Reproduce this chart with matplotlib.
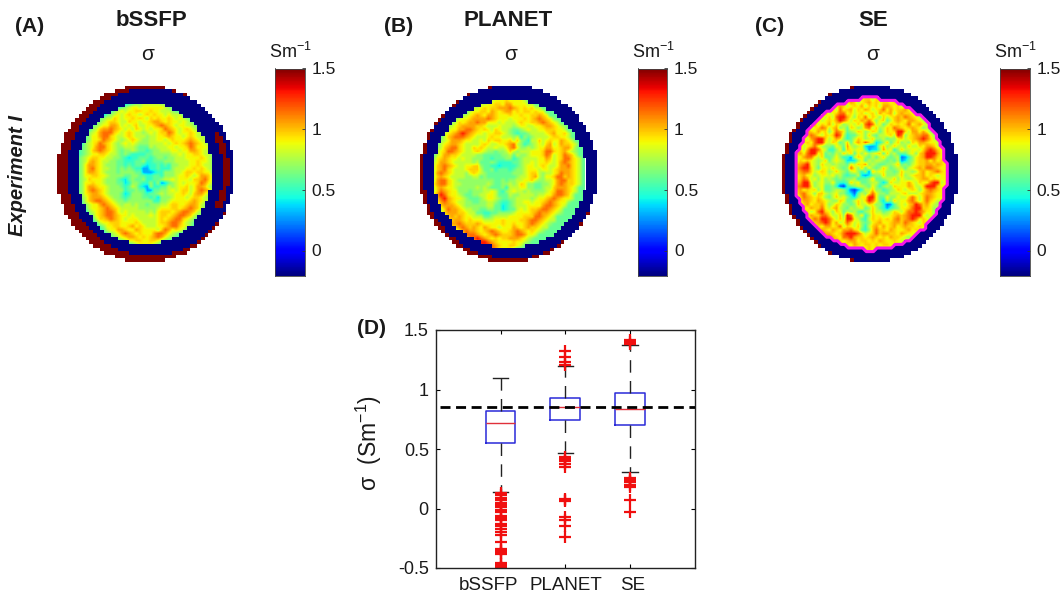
import numpy as np
import matplotlib
matplotlib.use("Agg")
import matplotlib.pyplot as plt
from matplotlib.colors import Normalize

plt.rcParams['font.family'] = ['Liberation Sans', 'DejaVu Sans']
plt.rcParams['mathtext.default'] = 'regular'

# Conductivity maps: one character per cell, read through CODE_VALUES (S/m)
CODE_VALUES = {'1': .1, '2': .2, '3': .3, '4': .4, '5': .5, '6': .6, '7': .7, '8': .8,
               '9': .9, 'A': .97, 'B': 1.05, 'C': 1.15, 'D': 1.3}
map_a = [
 "4444444444 4444456778 8888777544 4444444444",
 "4444444444 4456789989 9999987654 4444444444",
 "4444444444 5789899AA9 9A99888765 4444444444",
 "4444444446 78989A9989 A9A9989888 6444444444",
 "4444444678 8A9899A9A9 8A9A99A989 8764444444",
 "4444446789 AA988A9989 9ABBA9A998 9876444444",
 "4444467899 BBA8989A88 99ABCBA989 9887644444",
 "4444578ABB CBA9898A98 9899ACBA98 9A98764444",
 "4445789BCC CA989A9887 8989AACB98 99A9875444",
 "4446799BCC A9889A9888 78899ABA99 89A9887644",
 "4456799ACB A98789A987 7889989A99 9ABA988654",
 "445789ACBA 9878989877 78888989A9 ABCBA98754",
 "456789BCCA 9877888766 6878889989 9ACB999865",
 "45678ABCBA 9876778766 5677888998 99BBA98865",
 "4567899AA9 8876765555 6677777889 899AA98866",
 "46789AA998 8776545566 6567767788 89999A9876",
 "4678ABA988 7766555667 5566677788 8899A99876",
 "5679BBA987 7766565665 4556565778 8899A98876",
 "5679BCA988 7767676553 3556555788 899A9A9876",
 "5679BBA987 7767777663 3345577788 9AA9AA9976",
 "56799AA998 7777667766 5566577789 9A989BBA86",
 "5678A99987 7765467667 5566788989 998AABCA86",
 "56799A9987 7766457765 5757346789 8999ACB986",
 "5679BBA998 7776568754 3755668789 9A89BBA876",
 "5679BCBA98 7777566766 3366778989 AA89BCBA76",
 "4679ABBA98 7776457776 5667878899 A98ABB9876",
 "4678ABBBA9 8776567776 6564777899 989AA98765",
 "4568ABCCBA 9877677777 7755778999 99ABA98854",
 "4467899BCB A987887877 6777889AA9 9ABBA87654",
 "4456899ABC BA98888877 7778999AA9 ABCBA87544",
 "4445789ABC CB98988888 7879AAA9AB CCBA876444",
 "4444679ABC CBA9989888 8989AA9ABC CBA8764444",
 "4444568AAB CBA9899988 8889A9ABCC A987544444",
 "4444456899 AAA9999A98 8889AABCCB 9876544444",
 "4444445679 9AA99AB9A9 88899ABCCA 9875444444",
 "4444444568 99BBA99BA9 9998ACB9A9 8654444444",
 "4444444456 789BCBA9A9 99BCCB9876 5444444444",
 "4444444445 6789ABBA9A 9ABCB98765 4444444444",
 "4444444444 4567899AA9 9AA9876544 4444444444",
 "4444444444 4445567899 9987554444 4444444444",
]
map_b = [
 "6666666666 6666688999 A999986666 6666666666 66",
 "6666666666 6668899AA9 BB99998866 6666666666 66",
 "6666666666 6889A9AABB BCBA9A9A88 6666666666 66",
 "6666666666 899AA9BA9A BB9A9AA9A9 9666666666 66",
 "6666666678 9ABA9BBA99 9A99A99AAB A966666666 66",
 "6666667899 ABBBBCBA99 98999A9ABC BA97666666 66",
 "6666678A9A BBCBB99989 8889A99AAB CBA9866666 66",
 "6666789ABB BBAA988898 8878998899 ABBA987666 66",
 "6667899BBC CBA9A98A98 8766789889 9AAA998666 66",
 "66689ABCDC BA99899AA9 8765667888 89AB99A866 66",
 "6668ABCCCB A98889A998 8878576788 889AA99866 66",
 "66789BBBA9 98898A9AA9 9A8A76588A 89A99BA986 66",
 "6689ABBA98 8889A98899 ABC8756789 8AB89BAA98 66",
 "678ABCCA98 8A9A988988 9BC9778789 9BB99ABB97 66",
 "689ACCBA98 89A9877677 8A87888999 ACCA9AB987 66",
 "689BBAA988 8877666667 7868778999 ACB89ACBA8 66",
 "79ABA99898 8777665666 7756788889 9BA89ACCA9 86",
 "89BBA98888 8786667655 5566788989 9A989BCBA9 86",
 "8ABCBA9889 9AA7665545 5556789989 A9889BBCA9 86",
 "8ABCA98889 AAA8667566 6567789998 9989ABBBA9 86",
 "8BCBA98887 9A98766666 6677789AA8 7889ACBBA9 86",
 "8ABA988887 7886766666 6667889AB8 799ACCABA9 86",
 "8BCCA98777 7777777667 6778899A87 7889BCCAA9 86",
 "9BCCA98877 7777787667 7878A97766 7789BCBAA9 86",
 "8ABA998777 7787876667 5888997766 788ABBBA98 66",
 "8ACBA99777 6777889865 7898878777 789ACCBA98 66",
 "9BDCA99876 6778899866 6877888878 899BCCBA86 66",
 "8ACDBA9987 6667899876 6778888789 9ABCBA9986 66",
 "69BCBA9887 7667788765 5678899899 ABCBA99766 66",
 "68ABBBA987 7777788664 5678889999 BCCBA98666 66",
 "668ACBBA98 8776677664 5668989AAB CCBA986666 66",
 "668ABBBAA9 8866556677 7789999ABC BBA9876666 66",
 "6678ABABA9 9888667888 89999AAACC BA98666666 66",
 "6668AABBA9 A99988899A 9999AABCCB A988666666 66",
 "66679BBCBA AABA99999A 99A99ABCBA 9876666666 66",
 "666689ABCB ABA9BA9989 99BA9ABAA9 8866666666 66",
 "66666789BC BBA9ABCBA9 9ABCBA9A98 7666666666 66",
 "666666789C CCBA9ABCBA AABCCB9986 6666666666 66",
 "6666666789 CCDCBA9A9A ABBBA98766 6666666666 66",
 "6666666668 9BCDDCBA99 99A9987666 6666666666 66",
 "6666666666 89BDDDCBA9 9AA9866666 6666666666 66",
 "6666666666 6689BCCB99 9986666666 6666666666 66",
]
map_c = [
 "9999999999 9999999A9A A8A99A9999 9999999999 99",
 "9999999999 99AA9BA89A B9A9AA9A99 9999999999 99",
 "9999999999 A9BA89A9B8 A9A8BBA9A8 9999999999 99",
 "9999999AB9 A8C9AB8A9B A89AC9B9AA B987999999 99",
 "99999AA9B8 9ACC9A89A8 9A8B9AB8AB AA98999999 99",
 "9999A9BA8A 8CDDB97A9C 8A97A89ABA CBA9879999 99",
 "999A9BA89A 9BDCA8A9BA C979A68ABA 9BBA987999 99",
 "99A9AB8A9B 8A97898A8C DC8968A9A9 AC9AB98999 99",
 "99AB89ACB8 AB786A978B C8A78A9CBA 9ABA978899 99",
 "9A9BA9B9A7 9CB9678A97 8A968A9ADD A8BB9B9789 99",
 "99AACB98A9 ADC8566897 A76889A8DC 79ABBCC979 99",
 "9AA8BCDDA8 9BA7568A97 8A7786779A 89ABCDCA88 99",
 "9A9A9CDD98 A967A69B9C A8457A68A7 87A9BBA998 89",
 "AB89AC9877 6986B87894 3348A78A88 7A88A9BBA8 99",
 "9A8BDDC985 5795A98996 3447B8957A 88998ACDCA 99",
 "AB9CDD9A67 687A8A6979 789A6A7866 6897ABDDDB 99",
 "99BCC98A66 7975538A97 6868A76782 3579ABDDCA 99",
 "8A9A9878A6 8987444796 8788767683 4679AAB9B9 A9",
 "ABCD987A88 7877698A9B 78766778A6 7689AABBAB A9",
 "ACDDA86998 A8767C97A6 9767A86788 689ABACCBA 99",
 "ABCCA89A97 8A87689757 3A8997767A 8878AB9ABC A9",
 "9AB9978998 9786566843 4677A7778A 789AAB9A98 99",
 "9ACB897978 7676778566 7A66788A79 8789ABB9A9 99",
 "ABDD978977 96556A8966 788646A889 9B98A99CDD 89",
 "BCDDA78966 7521567887 6975787A99 9BA88ADDDA 99",
 "AB9A9A7966 7887521358 8A775678A9 89A979BCBA 99",
 "9BCA97AA87 8977542687 9C97768889 A8889ABBA9 99",
 "8ACBA9A976 8A89754799 DD96697798 8ACA8ACBA9 99",
 "79BBA9BA98 77A9668A8A DC96486A89 9BCA8ACA98 89",
 "78AB9AAB97 8A97767A88 A977523689 8ABDCAB987 99",
 "97A9BAAC98 AB87687896 7A86535679 9ACDDAA978 99",
 "999A89CDA9 7A96878657 8A88678A98 ACCDCB9978 99",
 "9999BAACCA 88A7DC8795 7A99889ABA BCDDD98979 99",
 "9999ACBDDC A8A8DD9865 8A9A9A9BCA BCDC9A9799 99",
 "99999ABCDC 9B89CA8976 79AB99ABBA CBA98A9799 99",
 "99999AA9BB 9AC8A98A75 8AB9B9AB9A BAA9A97999 99",
 "999999ABA9 BA9BBCA965 7ACAA9BA99 AB9A988999 99",
 "9999999CBB A9ACDDDCA8 9ACABBAA9B A998999999 99",
 "99999999BC BA9CCDBAA9 ABA9A9BAA9 8799999999 99",
 "9999999999 9BA9ABB9AA 9A9BA99A98 9999999999 99",
 "9999999999 99A9A9BA9A A9A9AA9999 9999999999 99",
 "9999999999 9999A9A999 A9A9999999 9999999999 99",
]

panel_letters = ['(A)', '(B)', '(C)']
panel_titles = ['bSSFP', 'PLANET', 'SE']
cbar_ticks = [0, 0.5, 1, 1.5]
cbar_labels = ['0', '0.5', '1', '1.5']
vmin, vmax = -0.2, 1.5
ring_low, ring_high = -0.2, 1.5

# Box plot summaries
box_names = ['bSSFP', 'PLANET', 'SE']
box_q1 = [0.55, 0.745, 0.70]
box_med = [0.72, 0.85, 0.84]
box_q3 = [0.82, 0.93, 0.97]
box_lo = [0.14, 0.47, 0.31]
box_hi = [1.10, 1.20, 1.37]
fliers_bssfp = [.13, .11, .09, .07, .05, .03, .01, -.01, -.03, -.06, -.08, -.10, -.13,
                -.15, -.17, -.20, -.22, -.28, -.34, -.35, -.36, -.37, -.38, -.46, -.47,
                -.48, -.49, -.50]
fliers_planet = [1.32, 1.27, 1.23, 1.21, .43, .42, .40, .37, .35, .08, .07, .06, -.07,
                 -.10, -.15, -.24]
fliers_se = [1.42, 1.40, 1.38, .26, .24, .23, .22, .20, .18, .07, -.03]
reference_sigma = 0.85

W, H = 1064, 596
fig = plt.figure(figsize=(W / 100, H / 100), dpi=100)
TXT = '#1a1a1a'


def axpx(x0, y0, x1, y1):
    return fig.add_axes([x0 / W, 1 - y1 / H, (x1 - x0) / W, (y1 - y0) / H])


def tpx(x, y, s, **kw):
    kw.setdefault('color', TXT)
    return fig.text(x / W, 1 - y / H, s, **kw)


def decode(rows):
    rows = [r.replace(' ', '') for r in rows]
    n = len(rows)
    return np.array([[CODE_VALUES[c] for c in r.ljust(n, r[0])[:n]] for r in rows])


cmap = plt.get_cmap('jet', 256)
norm = Normalize(vmin, vmax)
N, BOX = 50, 180.0
GY = 82.4
geom = [
    dict(gx=57.3, map=map_a, mapbox=(73.3, 217.3, 245.7, 101.7),
         red=(145.5, 174.2, 88.6, 88.6), navy=(150.9, 172.4, 83.4, 83.4), inner=(145, 174, 67.5, 71)),
    dict(gx=415.7, map=map_b, mapbox=(432.2, 584.7, 251.2, 100),
         red=(507.5, 174.2, 88.6, 88.6), navy=(509.5, 172.4, 86.9, 86.9), inner=(508.7, 174, 76, 74)),
    dict(gx=778.1, map=map_c, mapbox=(794.7, 946.7, 250, 98),
         red=(869.9, 174.2, 88.6, 88.6), navy=(871.7, 174.2, 86.9, 88.6), inner=(870.7, 174, 76, 76)),
]
for k, g in enumerate(geom):
    gx = g['gx']
    ax = axpx(gx, GY, gx + BOX, GY + BOX)
    ax.imshow(decode(g['map']), cmap='jet', norm=norm, extent=g['mapbox'],
              interpolation='bilinear', aspect='auto', zorder=1)
    px = gx + (np.arange(N) + .5) * BOX / N
    py = GY + (np.arange(N) + .5) * BOX / N
    X, Y = np.meshgrid(px, py)
    rx, ry, ra, rb = g['red']
    nx, ny, na, nb = g['navy']
    ix, iy, ia, ib = g['inner']
    red = ((X - rx) / ra) ** 2 + ((Y - ry) / rb) ** 2 <= 1
    navy = ((X - nx) / na) ** 2 + ((Y - ny) / nb) ** 2 <= 1
    inner = ((X - ix) / ia) ** 2 + ((Y - iy) / ib) ** 2 <= 1
    rgba = np.ones((N, N, 4))
    rgba[red] = cmap(norm(ring_high))
    rgba[navy] = cmap(norm(ring_low))
    if k == 0:
        d = np.hypot(X - 145.7, Y - 172)
        crescent = (d >= 77.7) & (d <= 83.7) & (X > 215) & (Y > 133) & (Y < 207)
        rgba[crescent] = cmap(norm(ring_high))
    rgba[inner] = (0, 0, 0, 0)
    ax.imshow(rgba, extent=(gx, gx + BOX, GY + BOX, GY), interpolation='nearest',
              aspect='auto', zorder=2)
    if k == 2:
        ax.contour(px, py, inner.astype(float), levels=[0.5], colors='#f516e8',
                   linewidths=2.2, zorder=3)
    ax.set_xlim(gx, gx + BOX)
    ax.set_ylim(GY + BOX, GY)
    ax.axis('off')

# Colour bars
for bx in (275, 637.5, 1000):
    cax = axpx(bx, 68.5, bx + 29.5, 275.5)
    levels = np.linspace(vmin, vmax, 257)
    cax.pcolormesh([0, 1], levels, ((levels[:-1] + levels[1:]) / 2).reshape(-1, 1),
                   cmap='jet', norm=norm, rasterized=True)
    cax.set_xlim(0, 1)
    cax.set_ylim(vmin, vmax)
    cax.set_xticks([])
    cax.yaxis.tick_right()
    cax.set_yticks(cbar_ticks)
    cax.set_yticklabels([])
    cax.tick_params(axis='y', direction='in', length=2.5, width=0.6, colors='#333333')
    for s in cax.spines.values():
        s.set_linewidth(0.6)
        s.set_color('#444444')
    for t, lab in zip(cbar_ticks, cbar_labels):
        yy = 69.5 + (1.5 - t) / 0.5 * 60.8
        tpx(bx + 36.5, yy, lab, fontsize=12.5, va='center', ha='left')
    tpx(bx - 6, 52, 'Sm$^{-1}$', fontsize=13, va='center', ha='left')

# Titles, letters and sigma
for x, s in zip((15, 384, 755), panel_letters):
    tpx(x, 26, s, fontsize=15, fontweight='bold', va='center', ha='left')
for x, s in zip((151, 508, 873), panel_titles):
    tpx(x, 21, s, fontsize=16, fontweight='bold', va='center', ha='center')
for x in (148, 511, 873):
    tpx(x, 55, '\u03c3', fontsize=15, va='center', ha='center')
tpx(18, 175, 'Experiment I', fontsize=14.5, fontweight='bold', fontstyle='italic',
    rotation=90, va='center', ha='center')

# Panel D
ax = axpx(435.7, 330, 695, 568)
stats = []
all_fliers = [fliers_bssfp, fliers_planet, fliers_se]
for i, name in enumerate(box_names):
    stats.append(dict(label=name, q1=box_q1[i], med=box_med[i], q3=box_q3[i],
                      whislo=box_lo[i], whishi=box_hi[i], fliers=all_fliers[i]))
ax.bxp(stats, positions=[1, 2, 3], widths=0.46, manage_ticks=False,
       boxprops=dict(color='#2a2ad8', linewidth=1.1),
       medianprops=dict(color='#e0303a', linewidth=1.0),
       whiskerprops=dict(color='#222222', linewidth=1.0, linestyle=(0, (9, 6))),
       capprops=dict(color='#222222', linewidth=1.0), capwidths=0.24,
       flierprops=dict(marker='+', markeredgecolor='#f00f0f', markersize=8.5,
                       markeredgewidth=1.6, linestyle='none'))
ax.plot([0.07, 4], [reference_sigma, reference_sigma], color='black', lw=2,
        linestyle=(0, (3.6, 2.0)), zorder=5)
ax.set_xlim(0, 4)
ax.set_ylim(-0.5, 1.5)
ax.set_xticks([1, 2, 3])
ax.set_xticklabels([])
ax.set_yticks([-0.5, 0, 0.5, 1, 1.5])
ax.set_yticklabels(['-0.5', '0', '0.5', '1', '1.5'])
ax.tick_params(direction='in', length=3, width=0.8, top=True, right=True, labelsize=13,
               labelcolor=TXT, pad=5)
for s in ax.spines.values():
    s.set_linewidth(1.0)
    s.set_color('#222222')
for x, s in zip((489, 566, 633), box_names):
    tpx(x, 586, s, fontsize=13.5, va='center', ha='center')
tpx(369, 491, '\u03c3  (Sm$^{-1}$)', fontsize=16.5, rotation=90, va='bottom', ha='center')
tpx(357, 329, '(D)', fontsize=15, fontweight='bold', va='center', ha='left')

fig.savefig('out.png', dpi=100)
